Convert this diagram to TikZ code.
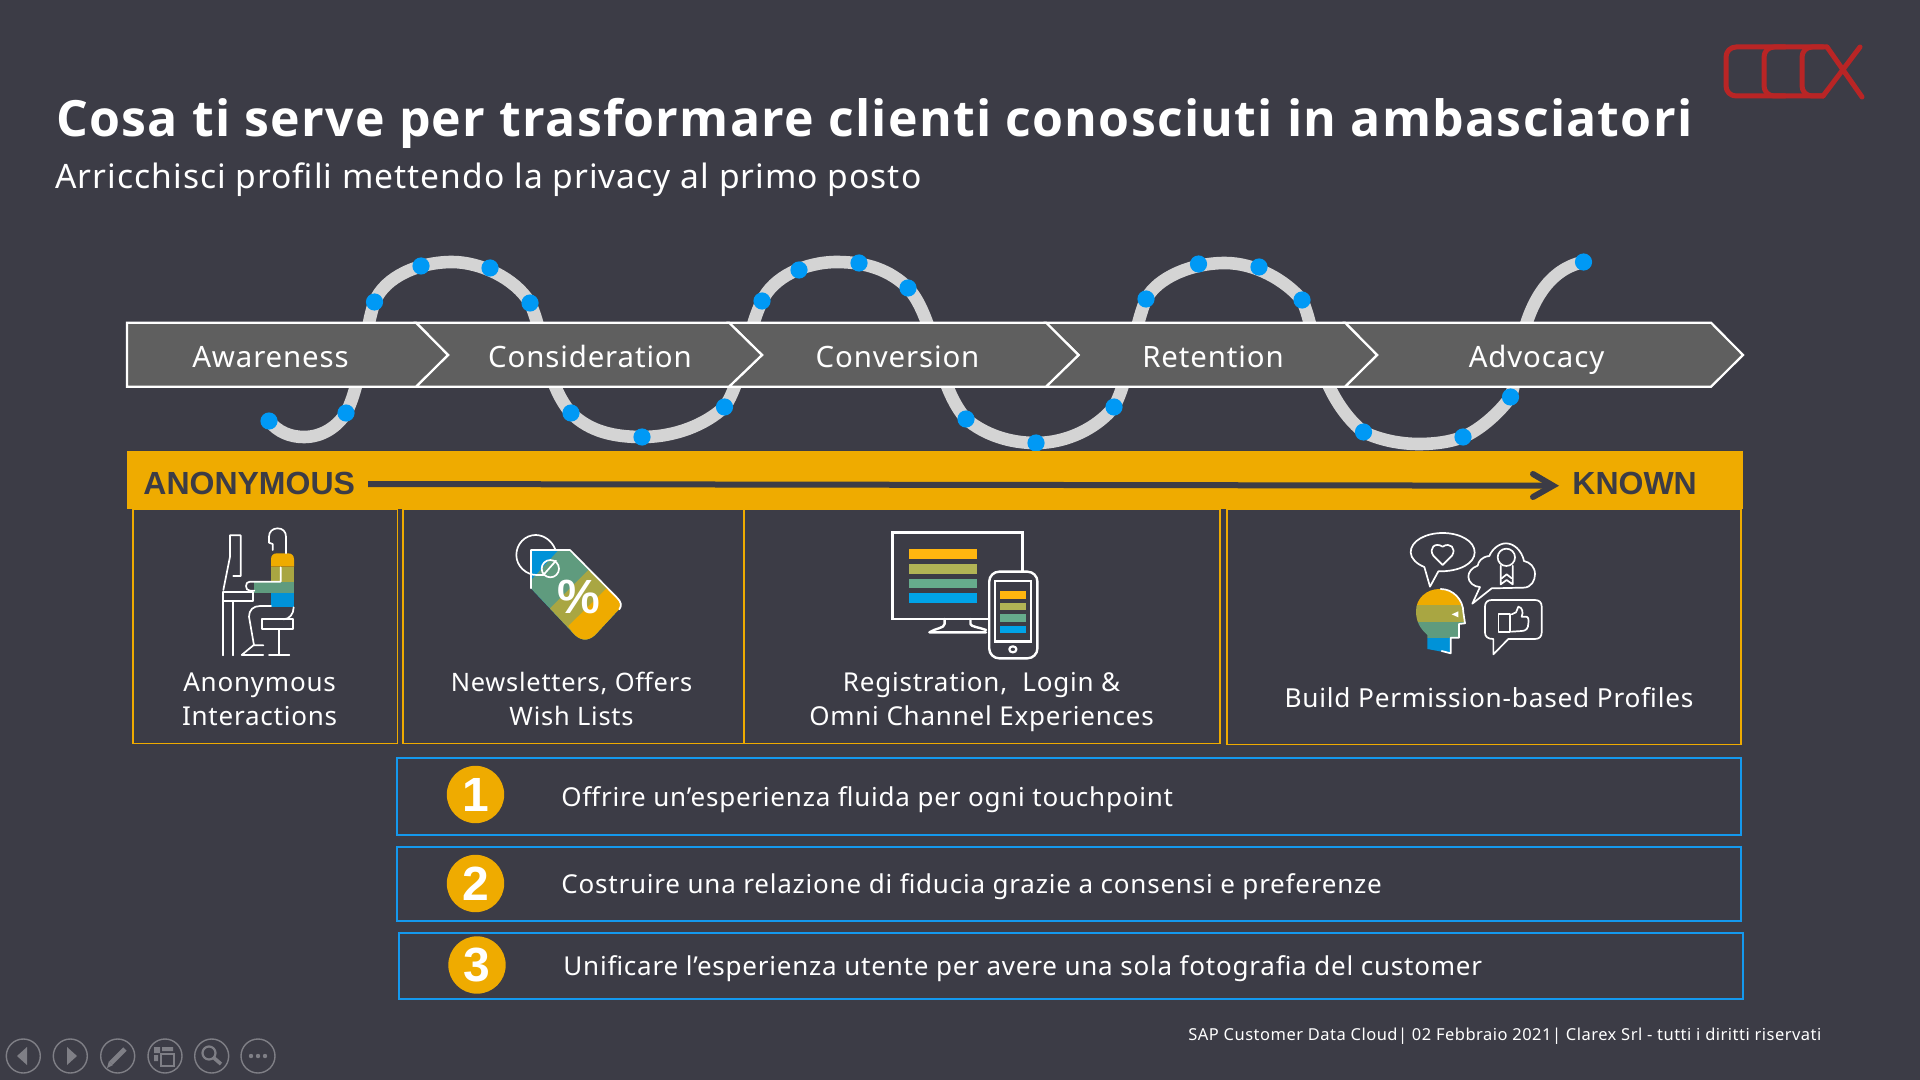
\documentclass[tikz,border=0pt]{standalone}
\usepackage{fontspec}
\setmainfont{Noto Sans}[LetterSpace=3]
\newfontfamily\titlefont{Open Sans}[LetterSpace=2.5]
\newfontfamily\arialb{Liberation Sans}
\definecolor{bg}{HTML}{3C3C46}
\definecolor{chev}{HTML}{5F5F5F}
\definecolor{wave}{HTML}{D4D4D4}
\definecolor{dot}{HTML}{0099F5}
\definecolor{gold}{HTML}{EFAB00}
\definecolor{rowblue}{HTML}{1499EE}
\definecolor{logored}{HTML}{B92525}
\definecolor{olive}{HTML}{A9A642}
\definecolor{teal}{HTML}{5F9B7E}
\definecolor{iblue}{HTML}{0092D8}
\definecolor{ctrl}{HTML}{7F7F86}
\tikzset{
 chevron/.style={draw=white,fill=chev,line width=1.1pt,line join=miter},
 chevlabel/.style={text=white,font=\fontsize{14.7}{17}\selectfont,inner sep=0pt,anchor=base},
 wavedot/.style={circle,fill=dot,inner sep=0pt,minimum size=8.6pt},
 goldbox/.style={draw=gold,line width=0.9pt},
 boxtext/.style={text=white,align=center,inner sep=0pt,font=\fontsize{13}{17}\selectfont},
 rowbox/.style={draw=rowblue,line width=0.9pt},
 rowtext/.style={text=white,anchor=base west,inner sep=0pt,font=\fontsize{13}{16}\selectfont},
 numdisc/.style={circle,fill=gold,text=white,inner sep=0pt,minimum size=28.7pt,font=\arialb\bfseries\fontsize{24}{24}\selectfont},
 ico/.style={draw=white,line width=0.85pt,line join=round,line cap=round},
 ctrlring/.style={circle,draw=ctrl,line width=0.7pt,minimum size=17pt,inner sep=0pt},
 logo/.style={draw=logored,line width=2.5pt,line cap=round,line join=round,rounded corners=5pt},
 barlabel/.style={text=bg,inner sep=0pt,font=\arialb\bfseries\fontsize{16}{16}\selectfont}
}
\begin{document}
\begin{tikzpicture}[x=0.5pt,y=-0.5pt]
\path[use as bounding box,fill=bg] (0,0) rectangle (1920,1080);
% logo
\draw[logo] (1827,47) -- (1726,47) -- (1726,96) -- (1823,96);
\draw[logo] (1785,47) -- (1764,47) -- (1764,96) -- (1785,96);
\draw[logo] (1823,47) -- (1802,47) -- (1802,96) -- (1823,96);
\draw[logo,rounded corners=0pt] (1827,47) -- (1862,97) (1860,47) -- (1823,96);
% title
\node[anchor=base west,inner sep=0pt,text=white,font=\titlefont\bfseries\fontsize{25}{30}\selectfont] (title) at (56,136.5) {Cosa ti serve per trasformare clienti conosciuti in ambasciatori};
\node[anchor=base west,inner sep=0pt,text=white,font=\fontsize{16.8}{20}\selectfont] (subtitle) at (55,189) {Arricchisci profili mettendo la privacy al primo posto};
% wave
\draw[wave,line width=6.3pt,line cap=round] (269,421)
 .. controls (278,432) and (290,437) .. (304,437)
 .. controls (322,437) and (337,427) .. (346,413)
 .. controls (353,400) and (358,380) .. (363,355)
 .. controls (367,335) and (369,318) .. (374.5,302)
 .. controls (385,276) and (420,262) .. (452,262)
 .. controls (480,262) and (515,278) .. (530,303)
 .. controls (537,318) and (541,338) .. (545,355)
 .. controls (551,378) and (558,398) .. (571,413)
 .. controls (590,432) and (615,437) .. (642,437)
 .. controls (675,437) and (705,425) .. (724.5,407)
 .. controls (733,395) and (738,378) .. (745,355)
 .. controls (750,335) and (754,318) .. (762,301)
 .. controls (773,277) and (805,262) .. (837,262)
 .. controls (866,262) and (890,270) .. (908,288)
 .. controls (922,303) and (930,330) .. (937,355)
 .. controls (944,380) and (952,403) .. (966,419)
 .. controls (985,435) and (1010,443) .. (1036,443)
 .. controls (1067,443) and (1097,428) .. (1114,407)
 .. controls (1122,392) and (1126,375) .. (1131,355)
 .. controls (1135,335) and (1139,317) .. (1146,299)
 .. controls (1158,277) and (1192,263) .. (1225,263)
 .. controls (1255,263) and (1285,280) .. (1302,300)
 .. controls (1309,315) and (1312,335) .. (1318,355)
 .. controls (1325,385) and (1342,415) .. (1363.5,432)
 .. controls (1380,440) and (1400,444) .. (1419,444)
 .. controls (1435,444) and (1450,442) .. (1463,437)
 .. controls (1480,430) and (1500,412) .. (1510.5,397)
 .. controls (1514,388) and (1516,372) .. (1519,355)
 .. controls (1526,310) and (1545,270) .. (1583.5,262);
\foreach \n/\p in {a/{269,421},b/{346,413},c/{374.5,302},d/{421,266},e/{490,268},f/{530,303},g/{571,413},h/{642,437},i/{724.5,407},j/{762,301},k/{799,270},l/{859,263},m/{908,288},n/{966,419},o/{1036,443},p/{1114,407},q/{1146,299},r/{1198.5,264},s/{1259,267},t/{1302,300},u/{1363.5,432},v/{1463,437},w/{1510.5,397},x/{1583.5,262}}
  \node[wavedot] (d\n) at (\p) {};
% chevrons
\draw[chevron] (1345,322.7) -- (1711,322.7) -- (1743,355) -- (1711,386.7) -- (1345,386.7) -- (1377,355) -- cycle;
\draw[chevron] (1046,322.7) -- (1345,322.7) -- (1377,355) -- (1345,386.7) -- (1046,386.7) -- (1078.5,355) -- cycle;
\draw[chevron] (729,322.7) -- (1046,322.7) -- (1078.5,355) -- (1046,386.7) -- (729,386.7) -- (762,355) -- cycle;
\draw[chevron] (416,322.7) -- (729,322.7) -- (762,355) -- (729,386.7) -- (416,386.7) -- (448,355) -- cycle;
\draw[chevron] (127,322.7) -- (416,322.7) -- (448,355) -- (416,386.7) -- (127,386.7) -- cycle;
\node[chevlabel] (l1) at (270.5,367) {Awareness};
\node[chevlabel] (l2) at (590,367) {Consideration};
\node[chevlabel] (l3) at (897.5,367) {Conversion};
\node[chevlabel] (l4) at (1213,367) {Retention};
\node[chevlabel] (l5) at (1536.5,367) {Advocacy};
% gold bar
\fill[gold] (127,451) rectangle (1743,509);
\node[barlabel,anchor=base west] (anon) at (143,494) {ANONYMOUS};
\node[barlabel,anchor=base west] (known) at (1572,494) {KNOWN};
\coordinate (arrs) at (368,484);
\coordinate (arre) at (1553,485.7);
\draw[bg,line width=3pt] (arrs) -- (arre);
\draw[bg,line width=3pt,line cap=round,line join=miter] (1533,474) -- (arre) -- (1533,497);
% boxes
\draw[goldbox] (132.7,509) rectangle (397.5,743.5);
\draw[goldbox] (403,509) rectangle (744,743.5);
\draw[goldbox] (744.5,509) rectangle (1220,743.5);
\draw[goldbox] (1226.6,509) rectangle (1740.6,744.5);
\node[boxtext] (t1) at (259.6,699) {Anonymous\\Interactions};
\node[boxtext,font=\fontsize{12.7}{17}\selectfont] (t2) at (571.5,699) {Newsletters, Offers\\Wish Lists};
\node[boxtext] (t3) at (981.5,702.5) {Registration,\ \ Login \&\\Omni Channel Experiences};
\node[boxtext,font=\fontsize{13.1}{17}\selectfont] (t4) at (1489,698) {Build Permission-based Profiles};
% person icon
\begin{scope}[shift={(200,520)},scale=1/3]
\fill[gold] (213,140) -- (213,118) .. controls (213,106) and (220,100) .. (231,100) -- (264,100) .. controls (275,100) and (282,106) .. (282,118) -- (282,140) -- cycle;
\fill[olive] (213,140) rectangle (282,185);
\fill[teal] (163,185) rectangle (282,218);
\fill[iblue] (213,218) rectangle (282,260);
\draw[ico] (258,100) -- (258,50) .. controls (258,35) and (248,25) .. (233,25) .. controls (218,25) and (207,35) .. (207,50) -- (207,68) -- (218,72) -- (218,90);
\draw[ico] (70,210) -- (90,110) -- (90,46) -- (122,46) -- (122,168) -- (100,168);
\draw[ico] (70,406) -- (70,215) -- (160,215) -- (160,243) -- (70,243);
\draw[ico] (100,243) -- (100,406);
\draw[ico] (242,142) -- (242,185) -- (150,185) .. controls (142,185) and (138,190) .. (138,198) .. controls (138,206) and (142,212) .. (150,212) -- (163,212);
\draw[ico] (213,258) -- (180,258) .. controls (160,258) and (147,270) .. (147,290) -- (162,376);
\draw[ico] (190,376) -- (160,376) -- (125,405) -- (190,405);
\draw[ico] (187,298) rectangle (280,328);
\draw[ico] (281,262) .. controls (281,282) and (268,298) .. (250,298);
\draw[ico] (237,328) -- (237,405) (207,405) -- (268,405);
\end{scope}
% tag icon
\begin{scope}[shift={(200,520)},scale=1/3]
\begin{scope}
\clip (993,90) -- (1110,90) -- (1250,232) .. controls (1268,250) and (1268,258) .. (1250,275) -- (1185,345) .. controls (1165,363) and (1145,363) .. (1125,345) -- (993,205) -- cycle;
\fill[iblue] (980,80) rectangle (1300,370);
\fill[teal] (1085,80) -- (1300,80) -- (1300,370) -- (980,370) -- (980,195) -- cycle;
\fill[olive] (1165,150) -- (1050,265) -- (1100,420) -- (1300,420) -- (1300,80) -- (1235,80) -- cycle;
\fill[gold] (1220,205) -- (1105,318) -- (1160,400) -- (1300,400) -- (1300,150) -- cycle;
\end{scope}
\draw[ico] (993,205) -- (993,90) -- (1110,90) -- (1250,232) .. controls (1264,246) and (1266,256) .. (1258,268);
\draw[ico] (1066,88) .. controls (1055,62) and (1032,45) .. (1007,45) .. controls (975,45) and (949,72) .. (949,105) .. controls (949,138) and (978,165) .. (1010,165) -- (1030,165);
\draw[ico] (1051,146) circle[radius=26];
\draw[ico] (1030,165) -- (1068,122);
\node[text=white,inner sep=0pt,font=\arialb\bfseries\fontsize{24}{24}\selectfont] (pct) at (1137,232) {\%};
\end{scope}
% devices
\begin{scope}[shift={(870,520)},xscale=1/2.24,yscale=1/3]
\draw[ico,line width=1.2pt,line join=miter] (50,37) rectangle (342,297);
\foreach \a/\b/\c in {88/117/FFB60F,133/161/B2B455,177/205/66AB8C,220/249/00A3E8}{
  \definecolor{tmpc}{HTML}{\c}\fill[tmpc] (87,\a) rectangle (239,\b);}
\draw[ico,line width=1.2pt] (167,297) -- (167,312) .. controls (167,325) and (145,325) .. (133,337) -- (260,337);
\draw[ico,line width=1.2pt] (225,297) -- (225,312) .. controls (225,320) and (245,322) .. (260,330);
\filldraw[ico,line width=1.2pt,fill=bg,rounded corners=5pt] (267,155) rectangle (375,415);
\draw[ico,line width=1.2pt,line join=miter] (280,183) rectangle (360,365);
\foreach \a/\b/\c in {214/237/FFB60F,249/271/B2B455,283/305/66AB8C,317/339/00A3E8}{
  \definecolor{tmpc}{HTML}{\c}\fill[tmpc] (291,\a) rectangle (350,\b);}
\draw[ico,line width=1.1pt] (320,388) ellipse[x radius=8,y radius=9];
\end{scope}
% head and bubbles
\begin{scope}[shift={(1400,525)},scale=1/3]
\begin{scope}
\clip (82,372) -- (82,330) .. controls (60,310) and (48,290) .. (48,258) .. controls (48,220) and (80,192) .. (118,192) .. controls (160,192) and (190,225) .. (190,262) -- (195,295) -- (177,297) -- (177,338) -- (152,338) -- (152,385) -- cycle;
\fill[gold] (40,185) rectangle (200,240);
\fill[olive] (40,240) rectangle (200,290);
\fill[teal] (40,290) rectangle (200,338);
\fill[iblue] (40,338) rectangle (200,390);
\end{scope}
\draw[ico] (122,192) .. controls (160,192) and (190,225) .. (190,262) -- (195,295) -- (177,297) -- (177,338) -- (152,338) -- (152,385) -- (125,378);
\fill[white] (155,268) -- (175,259) -- (175,277) -- cycle;
\draw[ico] (115,139) .. controls (180,140) and (224,115) .. (224,82) .. controls (224,48) and (180,24) .. (128,24) .. controls (76,24) and (32,48) .. (32,82) .. controls (32,100) and (50,117) .. (73,126) -- (90,185) -- cycle;
\draw[ico] (128,120) -- (100,92) .. controls (85,70) and (105,50) .. (128,65) .. controls (150,50) and (170,70) .. (156,92) -- cycle;
\draw[ico] (240,186) -- (217,236) -- (275,190) -- (370,188) .. controls (395,188) and (405,165) .. (405,148) .. controls (405,125) and (390,112) .. (372,108) .. controls (365,75) and (340,55) .. (318,55) .. controls (295,55) and (275,75) .. (268,93) .. controls (245,95) and (235,110) .. (233,122) .. controls (215,128) and (205,142) .. (205,155) .. controls (205,172) and (222,186) .. (240,186);
\draw[ico] (319,97) circle[radius=26];
\draw[ico] (302,122) -- (302,178) -- (320,165) -- (338,178) -- (338,122);
\draw[ico] (305,160) -- (320,148) -- (335,160);
\draw[ico] (280,342) -- (280,388) -- (325,342) -- (405,342) .. controls (417,342) and (425,335) .. (425,323) -- (425,244) .. controls (425,232) and (417,225) .. (405,225) -- (275,225) .. controls (263,225) and (255,232) .. (255,244) -- (255,323) .. controls (255,335) and (263,342) .. (280,342);
\draw[ico] (295,268) rectangle (330,320);
\draw[ico] (335,268) -- (348,262) -- (355,245) .. controls (368,248) and (370,262) .. (365,275) -- (378,275) .. controls (386,275) and (386,285) .. (385,295) .. controls (385,310) and (378,318) .. (365,318) -- (335,320);
\end{scope}
% rows
\draw[rowbox] (397,758) rectangle (1741,835);
\draw[rowbox] (397,847) rectangle (1741,921);
\draw[rowbox] (399,933) rectangle (1743,999);
\node[numdisc] (n1) at (475.5,794.5) {1};
\node[numdisc] (n2) at (475.5,883.5) {2};
\node[numdisc] (n3) at (477,965) {3};
\node[rowtext] (r1) at (561,806) {Offrire un’esperienza fluida per ogni touchpoint};
\node[rowtext] (r2) at (561,893) {Costruire una relazione di fiducia grazie a consensi e preferenze};
\node[rowtext] (r3) at (563,975) {Unificare l’esperienza utente per avere una sola fotografia del customer};
\node[anchor=base west,inner sep=0pt,text=white,font=\fontsize{8.24}{10}\selectfont] (foot) at (1188,1040) {SAP Customer Data Cloud| 02 Febbraio 2021| Clarex Srl - tutti i diritti riservati};
% controls
\node[ctrlring] (c1) at (23.3,1056) {};
\node[ctrlring] (c2) at (70.3,1056) {};
\node[ctrlring] (c3) at (117.7,1056) {};
\node[ctrlring] (c4) at (165,1056) {};
\node[ctrlring] (c5) at (211.7,1056) {};
\node[ctrlring] (c6) at (258,1056) {};
\fill[ctrl] (17,1056) -- (27,1047) -- (27,1065) -- cycle;
\fill[ctrl] (77,1056) -- (67,1047) -- (67,1065) -- cycle;
\draw[ctrl,line width=2.4pt] (111,1063) -- (125,1049);
\fill[ctrl] (107,1068) -- (109,1061) -- (113,1065) -- cycle;
\fill[ctrl] (154,1047) rectangle (160,1053) (162,1047) rectangle (173,1051) (154,1055) rectangle (158,1061);
\draw[ctrl,line width=0.9pt] (161,1054) rectangle (174,1066);
\draw[ctrl,line width=1.1pt] (209,1053) circle[radius=6.5];
\draw[ctrl,line width=1.8pt] (214,1058) -- (221,1064);
\fill[ctrl] (251,1056) circle[radius=2.2] (258,1056) circle[radius=2.2] (265,1056) circle[radius=2.2];
\end{tikzpicture}
\end{document}
